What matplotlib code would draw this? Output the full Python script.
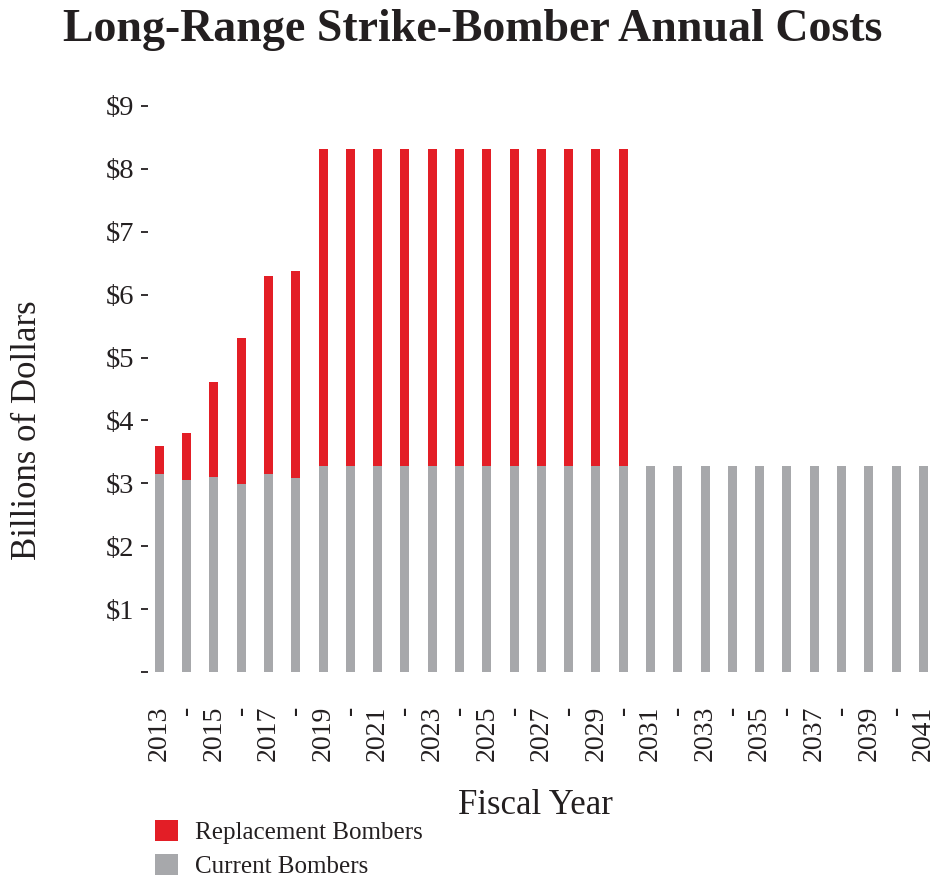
import matplotlib
matplotlib.use("Agg")
import matplotlib.pyplot as plt
from matplotlib.patches import Patch
import numpy as np

years = list(range(2013, 2042))
current = [3.15, 3.06, 3.10, 2.99, 3.14, 3.09] + [3.28] * 23
replacement_total = [3.60, 3.80, 4.61, 5.31, 6.30, 6.38] + [8.31] * 12 + [None] * 11
replacement = [t - c if t is not None else 0 for t, c in zip(replacement_total, current)]

y_ticks = list(range(0, 10))
y_labels = [""] + ["$%d" % v for v in y_ticks[1:]]
x_labels = [str(y) if (y - 2013) % 2 == 0 else "-" for y in years]

RED = "#E31E26"
GRAY = "#A7A8AB"
TXT = "#231F20"

plt.rcParams["font.family"] = ["Liberation Serif", "DejaVu Serif"]

fig = plt.figure(figsize=(9.39, 8.83), dpi=100)
ax = fig.add_axes([0.158, 0.239, 0.837, 0.641])

ax.bar(years, current, width=0.33, color=GRAY, linewidth=0)
ax.bar(years, replacement, width=0.33, bottom=current, color=RED, linewidth=0)

ax.set_xlim(2012.6, 2041.4)
ax.set_ylim(0, 9)
for s in ax.spines.values():
    s.set_visible(False)

ax.set_yticks(y_ticks)
ax.set_yticklabels(y_labels, fontsize=20.5, color=TXT)
ax.tick_params(axis="y", length=5, width=1.3, color=TXT, pad=5)

ax.set_xticks(years)
ax.set_xticklabels(x_labels, rotation=90, fontsize=20, color=TXT, va="top")
ax.tick_params(axis="x", length=0, pad=24)

# axis titles placed by hand to match the reference
fig.text(28 / 939, 1 - 430 / 883, "Billions of Dollars", rotation=90, fontsize=25,
         color=TXT, ha="center", va="center")
fig.text(535 / 939, 1 - 806 / 883, "Fiscal Year", fontsize=25,
         color=TXT, ha="center", va="center")

fig.text(0.503, 1 - 30 / 883, "Long-Range Strike-Bomber Annual Costs", fontsize=33,
         fontweight="bold", color=TXT, ha="center", va="center")

handles = [Patch(facecolor=RED, edgecolor="none", label="Replacement Bombers"),
           Patch(facecolor=GRAY, edgecolor="none", label="Current Bombers")]
fig.legend(handles=handles, loc="upper left", bbox_to_anchor=(0.152, 0.085),
           frameon=False, fontsize=18, handlelength=0.9, handleheight=0.9,
           labelspacing=0.4, handletextpad=0.7, borderpad=0, labelcolor=TXT)

fig.savefig("out.png", dpi=100)
